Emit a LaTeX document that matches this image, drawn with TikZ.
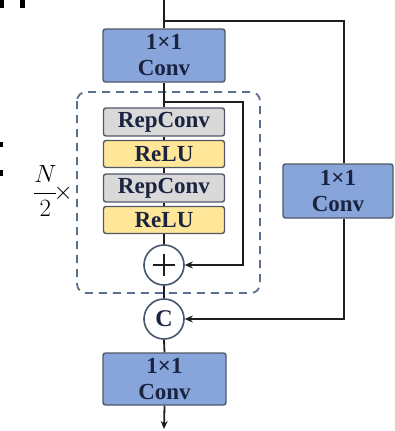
\documentclass[tikz,border=0pt]{standalone}
\usepackage{fontspec}
\setmainfont{Liberation Serif}
\usetikzlibrary{arrows.meta}
\definecolor{convblue}{HTML}{87A5DA}
\definecolor{repgray}{HTML}{D9D9D9}
\definecolor{reluyel}{HTML}{FFE699}
\definecolor{edgec}{HTML}{505868}
\definecolor{txtc}{HTML}{1A2340}
\definecolor{dashc}{HTML}{5B6F8E}
\definecolor{circc}{HTML}{44546A}
\definecolor{linec}{HTML}{1E1E1E}
\tikzset{
  x=1pt,y=-1pt,
  box/.style={draw=edgec,line width=1.4pt,rounded corners=2.5pt,inner sep=0pt,align=center,text=txtc,font=\fontsize{23}{26}\selectfont\bfseries},
  convbox/.style={box,fill=convblue,minimum width=122pt,minimum height=53pt},
  repbox/.style={box,fill=repgray,minimum width=121pt,minimum height=28pt},
  relubox/.style={box,fill=reluyel,minimum width=121pt,minimum height=27pt},
  opcirc/.style={circle,draw=circc,line width=1.6pt,fill=white,minimum size=40pt,inner sep=0pt,text=txtc,font=\fontsize{24}{26}\selectfont\bfseries},
  conn/.style={draw=linec,line width=1.8pt},
  arr/.style={conn,-{Stealth[length=8pt,width=7pt]}},
}
\begin{document}
\begin{tikzpicture}
\useasboundingbox (0,0) rectangle (395,431);
% cropped fragments at the left edge
\fill[black] (0,0) rectangle (4,8);
\fill[black] (20,0) rectangle (25,8);
\fill[black] (0,142) rectangle (3,147);
\fill[black] (0,170) rectangle (3,176);
% dashed group
\draw[dashc,line width=1.8pt,dash pattern=on 8pt off 6pt,rounded corners=9pt] (77,92) rectangle (260,293);
% nodes
\node[convbox] (topc) at (164,55.5) {1×1\\Conv};
\node[repbox] (rep1) at (164,122) {RepConv};
\node[relubox] (relu1) at (164,154) {ReLU};
\node[repbox] (rep2) at (164,188) {RepConv};
\node[relubox] (relu2) at (164,220) {ReLU};
\node[opcirc] (plus) at (164,265) {};
\node[opcirc] (cat) at (164,319) {C};
\node[convbox,minimum height=52pt,minimum width=123pt] (botc) at (164.5,379) {1×1\\Conv};
\node[convbox,minimum width=110pt,minimum height=54pt] (rightc) at (338,191) {1×1\\Conv};
\draw[line width=1.6pt,linec] (plus.center) ++(-11,0) -- ++(22,0) (plus.center) ++(0,-11) -- ++(0,22);
\node[text=black,font=\fontsize{32}{34}\selectfont] (nlab) at (53,191) {$\displaystyle\frac{N}{2}\!\times$};
% coordinates
\coordinate (in) at (164,0);
\coordinate (split) at (164,21);
\coordinate (rt) at (344,21);
\coordinate (rb) at (344,319);
\coordinate (lsplit) at (164,102);
\coordinate (lt) at (243,102);
\coordinate (lb) at (243,265);
\coordinate (out) at (164,429);
% connectors
\draw[conn] (in) -- (topc.north);
\draw[conn] (split) -- (rt) -- (rightc.north -| rt);
\draw[arr] (rightc.south -| rt) -- (rb) -- (cat.east);
\draw[conn] (topc.south) -- (rep1.north);
\draw[arr] (lsplit) -- (lt) -- (lb) -- (plus.east);
\draw[conn] (rep1.south) -- (relu1.north);
\draw[conn] (relu1.south) -- (rep2.north);
\draw[conn] (rep2.south) -- (relu2.north);
\draw[conn] (relu2.south) -- (plus.north);
\draw[conn] (plus.south) -- (cat.north);
\draw[conn] (cat.south) -- (botc.north);
\draw[arr] (botc.south) -- (out);
\end{tikzpicture}
\end{document}
